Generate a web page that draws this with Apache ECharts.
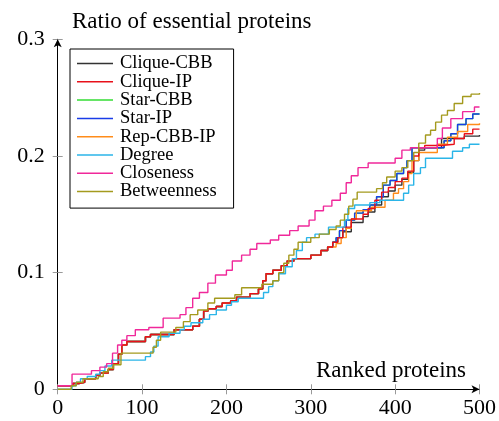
<!DOCTYPE html>
<html>
<head>
<meta charset="utf-8">
<script src="https://cdn.jsdelivr.net/npm/echarts@6/dist/echarts.min.js"></script>
<style>html,body{margin:0;padding:0;background:#fff}#c{width:499px;height:421px}</style>
</head>
<body>
<div id="c"></div>
<script>
// Data: [rank where value begins, ratio of essential proteins]
const seriesNames = ['Clique-CBB','Clique-IP','Star-CBB','Star-IP','Rep-CBB-IP','Degree','Closeness','Betweenness'];
const xTicks = [0,100,200,300,400,500];
const yTicks = [0,0.1,0.2,0.3];

const cliqueIP = [[0,0.003],[18,0.005],[25,0.006],[32,0.009],[45,0.012],[50,0.014],[60,0.017],[66,0.022],[72,0.03],[76,0.038],[82,0.041],[104,0.045],[110,0.047],[138,0.051],[160,0.054],[168,0.06],[173,0.067],[178,0.069],[188,0.071],[195,0.074],[205,0.076],[212,0.079],[228,0.082],[238,0.086],[243,0.093],[247,0.099],[255,0.102],[265,0.106],[272,0.11],[280,0.112],[300,0.115],[312,0.119],[320,0.122],[326,0.126],[332,0.13],[338,0.139],[348,0.146],[362,0.15],[368,0.155],[376,0.162],[384,0.169],[392,0.173],[400,0.178],[408,0.181],[415,0.187],[422,0.2],[428,0.207],[435,0.209],[455,0.21],[470,0.215],[482,0.219],[492,0.223],[500,0.223]];
const cliqueCBB = [[0,0.003],[18,0.005],[25,0.006],[32,0.009],[45,0.012],[50,0.014],[60,0.017],[66,0.022],[72,0.03],[76,0.038],[82,0.041],[104,0.045],[110,0.047],[138,0.051],[160,0.054],[168,0.06],[173,0.067],[178,0.069],[188,0.071],[195,0.074],[205,0.076],[212,0.079],[228,0.082],[238,0.086],[243,0.093],[247,0.099],[255,0.102],[265,0.106],[272,0.11],[280,0.112],[300,0.115],[312,0.119],[320,0.122],[326,0.126],[332,0.13],[338,0.135],[348,0.143],[362,0.148],[368,0.152],[376,0.158],[384,0.165],[392,0.17],[400,0.175],[408,0.18],[415,0.186],[422,0.196],[428,0.205],[435,0.207],[455,0.215],[482,0.217],[500,0.218]];
const starCBB = [[0,0.003],[18,0.005],[25,0.006],[32,0.009],[45,0.012],[50,0.014],[60,0.017],[66,0.022],[72,0.03],[76,0.038],[82,0.041],[104,0.045],[110,0.047],[138,0.051],[160,0.054],[168,0.06],[173,0.067],[178,0.069],[188,0.071],[195,0.074],[205,0.076],[212,0.079],[228,0.082],[238,0.086],[243,0.093],[247,0.099],[255,0.102],[265,0.106],[272,0.11],[280,0.112],[300,0.115],[312,0.119],[320,0.122],[326,0.126],[330,0.13],[334,0.136],[342,0.145],[352,0.151],[362,0.154],[370,0.158],[378,0.165],[386,0.175],[394,0.179],[402,0.185],[410,0.19],[414,0.196],[420,0.207],[458,0.213],[466,0.219],[474,0.227],[484,0.232],[492,0.236],[500,0.236]];
const starIP = [[0,0.003],[18,0.005],[25,0.006],[32,0.009],[45,0.012],[50,0.014],[60,0.017],[66,0.022],[72,0.03],[76,0.038],[82,0.041],[104,0.045],[110,0.047],[138,0.051],[160,0.054],[168,0.06],[173,0.067],[178,0.069],[188,0.071],[195,0.074],[205,0.076],[212,0.079],[228,0.082],[238,0.086],[243,0.093],[247,0.099],[255,0.102],[265,0.106],[272,0.11],[280,0.112],[300,0.115],[312,0.119],[320,0.122],[326,0.126],[330,0.13],[334,0.136],[342,0.145],[352,0.151],[362,0.154],[370,0.158],[378,0.165],[386,0.175],[394,0.179],[402,0.185],[410,0.19],[414,0.196],[420,0.207],[458,0.213],[466,0.219],[474,0.227],[484,0.232],[492,0.236],[500,0.236]];
const repCBBIP = [[0,0.003],[18,0.005],[25,0.006],[32,0.009],[45,0.012],[50,0.014],[60,0.017],[66,0.022],[72,0.03],[76,0.038],[82,0.041],[104,0.045],[110,0.047],[138,0.051],[160,0.054],[168,0.06],[173,0.067],[178,0.069],[188,0.071],[195,0.074],[205,0.076],[212,0.079],[228,0.082],[238,0.086],[243,0.093],[247,0.099],[255,0.102],[265,0.106],[272,0.11],[280,0.112],[300,0.115],[312,0.119],[320,0.122],[330,0.125],[336,0.13],[342,0.138],[348,0.146],[354,0.153],[372,0.156],[388,0.162],[398,0.168],[404,0.172],[410,0.178],[416,0.185],[420,0.196],[428,0.203],[450,0.21],[462,0.216],[474,0.221],[486,0.227],[500,0.228]];
const degree = [[0,0],[17,0.003],[22,0.006],[27,0.009],[35,0.011],[45,0.013],[50,0.016],[56,0.02],[64,0.025],[104,0.028],[110,0.032],[114,0.037],[119,0.045],[132,0.048],[145,0.051],[150,0.054],[158,0.057],[172,0.06],[180,0.064],[188,0.068],[200,0.072],[206,0.075],[214,0.078],[244,0.083],[250,0.088],[255,0.093],[262,0.099],[270,0.105],[278,0.112],[283,0.119],[290,0.126],[295,0.13],[305,0.133],[321,0.139],[340,0.145],[344,0.155],[352,0.158],[370,0.16],[382,0.162],[410,0.168],[416,0.175],[422,0.185],[430,0.19],[436,0.198],[468,0.204],[480,0.207],[488,0.21],[500,0.21]];
const closeness = [[0,0.003],[17,0.013],[40,0.016],[50,0.019],[58,0.022],[65,0.031],[71,0.038],[76,0.042],[82,0.046],[92,0.051],[108,0.053],[125,0.061],[145,0.064],[152,0.07],[160,0.078],[168,0.083],[178,0.091],[187,0.098],[200,0.102],[207,0.11],[218,0.115],[228,0.12],[236,0.125],[252,0.128],[262,0.132],[275,0.136],[285,0.14],[298,0.145],[305,0.153],[315,0.157],[325,0.162],[335,0.168],[342,0.177],[348,0.183],[356,0.19],[368,0.194],[400,0.198],[408,0.205],[418,0.207],[450,0.215],[456,0.224],[466,0.232],[480,0.238],[494,0.242],[500,0.242]];
const betweenness = [[0,0],[16,0.003],[22,0.006],[30,0.009],[48,0.011],[54,0.015],[60,0.018],[66,0.021],[75,0.031],[113,0.036],[117,0.042],[122,0.049],[140,0.053],[149,0.058],[157,0.064],[166,0.068],[178,0.074],[186,0.078],[210,0.081],[218,0.087],[242,0.09],[255,0.093],[262,0.1],[268,0.108],[274,0.115],[280,0.12],[285,0.126],[300,0.13],[310,0.133],[322,0.137],[330,0.14],[335,0.145],[340,0.15],[345,0.157],[350,0.163],[355,0.169],[378,0.172],[385,0.177],[390,0.182],[400,0.187],[408,0.19],[415,0.196],[422,0.203],[428,0.211],[436,0.218],[442,0.222],[448,0.229],[455,0.235],[462,0.239],[470,0.245],[480,0.251],[490,0.253],[500,0.254]];

const colors = {
  'Clique-CBB':'#333333','Clique-IP':'#e8101a','Star-CBB':'#33dd33','Star-IP':'#1a3ce8',
  'Rep-CBB-IP':'#ff8c1a','Degree':'#2bb5e8','Closeness':'#f0289a','Betweenness':'#a49a1e'
};
const dataMap = {
  'Clique-CBB':cliqueCBB,'Clique-IP':cliqueIP,'Star-CBB':starCBB,'Star-IP':starIP,
  'Rep-CBB-IP':repCBBIP,'Degree':degree,'Closeness':closeness,'Betweenness':betweenness
};
const drawOrder = ['Clique-CBB','Star-CBB','Star-IP','Rep-CBB-IP','Clique-IP','Degree','Closeness','Betweenness'];

const font = 'Liberation Serif';
const chart = echarts.init(document.getElementById('c'), null, {renderer:'canvas'});
const axisCommon = {
  type:'value', splitLine:{show:false}, gridIndex:0
};
chart.setOption({
  animation:false,
  backgroundColor:'#fff',
  title:[
    {text:'Ratio of essential proteins', left:67, top:5, textStyle:{fontFamily:font, fontSize:23, fontWeight:'normal', color:'#000'}},
    {text:'Ranked proteins', right:28, top:354, textStyle:{fontFamily:font, fontSize:23, fontWeight:'normal', color:'#000'}}
  ],
  grid:{left:57.7, right:19.3, top:39.3, bottom:31.7},
  legend:{
    data:seriesNames, orient:'vertical', left:70, top:49,
    padding:[5,17,7,7], itemGap:-0.7, itemWidth:36, itemHeight:1.5, icon:'rect',
    borderColor:'#000', borderWidth:1, backgroundColor:'#fff',
    textStyle:{fontFamily:font, fontSize:18.5, lineHeight:16.3, color:'#000', padding:[0,0,0,2]}
  },
  xAxis:[
    Object.assign({}, axisCommon, {min:0, max:500, interval:100,
      axisLine:{show:true, lineStyle:{color:'#000', width:1}, symbol:['none','arrow'], symbolSize:[6,8]},
      axisTick:{show:true, length:5, lineStyle:{color:'#999'}},
      axisLabel:{fontFamily:font, fontSize:22, color:'#000', margin:8,
        formatter:v=>xTicks.includes(v)?String(v):''}}),
    Object.assign({}, axisCommon, {min:0, max:500, interval:100, position:'bottom',
      axisLine:{show:false}, axisTick:{show:true, inside:true, length:5, lineStyle:{color:'#999'}},
      axisLabel:{show:false}})
  ],
  yAxis:[
    Object.assign({}, axisCommon, {min:0, max:0.3, interval:0.1,
      axisLine:{show:true, lineStyle:{color:'#000', width:1}, symbol:['none','arrow'], symbolSize:[6,8]},
      axisTick:{show:true, length:5, lineStyle:{color:'#999'}},
      axisLabel:{fontFamily:font, fontSize:22, color:'#000', margin:13,
        formatter:v=>{const t=yTicks.find(k=>Math.abs(k-v)<1e-9); return t===undefined?'':String(t);}}}),
    Object.assign({}, axisCommon, {min:0, max:0.3, interval:0.1, position:'left',
      axisLine:{show:false}, axisTick:{show:true, inside:true, length:5, lineStyle:{color:'#999'}},
      axisLabel:{show:false}})
  ],
  series: drawOrder.map(name=>({
    name, type:'line', step:'end', symbol:'none', showSymbol:false,
    xAxisIndex:0, yAxisIndex:0,
    data:dataMap[name], color:colors[name],
    lineStyle:{width:1.4, color:colors[name]}
  }))
});
</script>
</body>
</html>
